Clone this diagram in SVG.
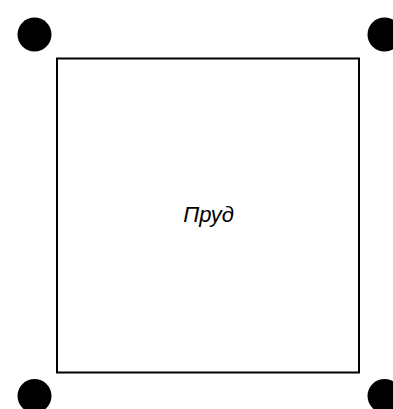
<svg xmlns="http://www.w3.org/2000/svg" width="393" height="409" viewBox="0 0 393 409">
<style>
.pt{fill:#000}
.pond{fill:#fff;stroke:#000;stroke-width:2}
.lbl{font-family:"Liberation Sans",Arial,sans-serif;font-style:italic;font-size:22px;fill:#000}
</style>
<rect width="393" height="409" fill="#fff"/>
<g id="corner-tl"><circle class="pt" cx="34.5" cy="34.5" r="17"/></g>
<g id="corner-tr"><circle class="pt" cx="384.5" cy="34.5" r="17"/></g>
<g id="corner-bl"><circle class="pt" cx="34.5" cy="396" r="17"/></g>
<g id="corner-br"><circle class="pt" cx="384.5" cy="396" r="17"/></g>
<g id="pond">
<rect class="pond" x="57" y="58.5" width="302" height="314"/>
<text class="lbl" x="208.5" y="221.5" text-anchor="middle">Пруд</text>
</g>
<g id="connectors"/>
</svg>
